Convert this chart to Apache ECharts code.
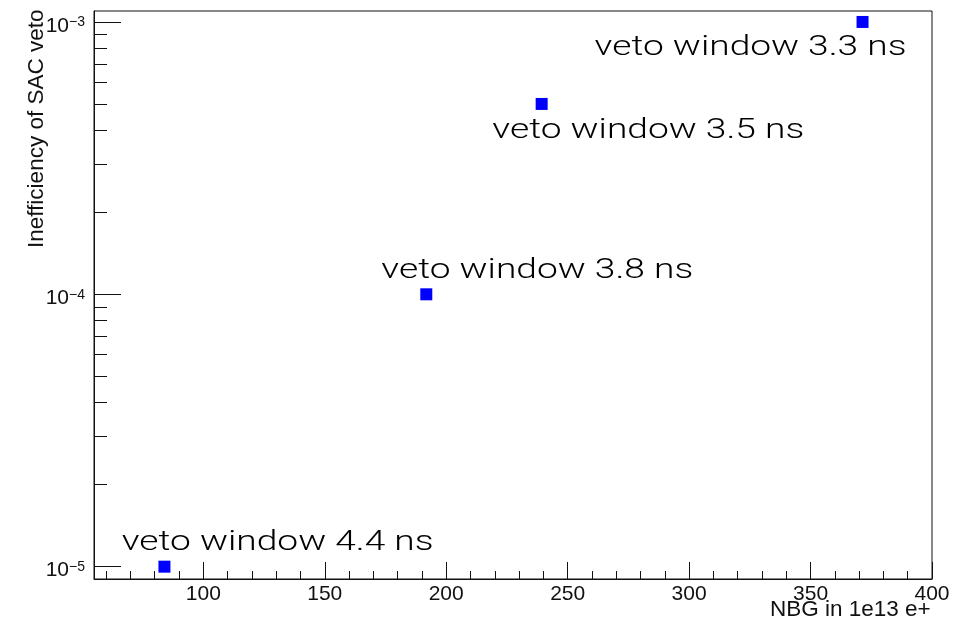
<!DOCTYPE html>
<html>
<head>
<meta charset="utf-8">
<script src="https://cdn.jsdelivr.net/npm/echarts@6/dist/echarts.min.js"></script>
<style>
  html, body { margin: 0; padding: 0; background: #fff; }
  #chart { width: 958px; height: 629px; }
</style>
</head>
<body>
<div id="chart"></div>
<script>
// measured points (NBG vs inefficiency)
var nbg = [84, 191.8, 239.3, 371.4];
var ineff = [1e-5, 1e-4, 5e-4, 1e-3];

// latex-like annotations, anchored at left edge / vertical middle
var noteText = ['veto window 4.4 ns', 'veto window 3.8 ns', 'veto window 3.5 ns', 'veto window 3.3 ns'];
var noteX = [66.4, 173.3, 219, 261.1];
var noteY = [1.22e-5, 1.22e-4, 3.98e-4, 8.04e-4];

// axis ticks
var xMajor = [100, 150, 200, 250, 300, 350, 400];
var xMinor = [60, 70, 80, 90, 110, 120, 130, 140, 160, 170, 180, 190, 210, 220, 230, 240,
  260, 270, 280, 290, 310, 320, 330, 340, 360, 370, 380, 390];
var yMajor = [1e-5, 1e-4, 1e-3];
var yMinor = [2e-5, 3e-5, 4e-5, 5e-5, 6e-5, 7e-5, 8e-5, 9e-5,
  2e-4, 3e-4, 4e-4, 5e-4, 6e-4, 7e-4, 8e-4, 9e-4];

var font = "Helvetica, 'Liberation Sans', Arial, sans-serif";
var noteFont = "Roboto, 'Liberation Sans', Arial, sans-serif";
var ink = '#111';

var chart = echarts.init(document.getElementById('chart'));

var pts = nbg.map(function (x, i) { return [x, ineff[i]]; });
var notes = noteX.map(function (x, i) { return [x, noteY[i]]; });

function powLabel(v) {
  var e = Math.round(Math.log10(v));
  return '{b|10}{s|\u2212' + (-e) + '}';
}

chart.setOption({
  animation: false,
  grid: {
    left: 94, right: 26, top: 11, bottom: 50,
    containLabel: false, outerBoundsMode: 'none',
    show: true, borderColor: ink, borderWidth: 1
  },
  xAxis: [
    {
      type: 'value', min: 55, max: 400,
      name: 'NBG in 1e13 e+',
      // pull the title back so it ends at the right edge (ROOT style)
      nameLocation: 'end', nameGap: -162, nameMoveOverlap: false,
      nameTextStyle: {
        fontFamily: font, fontSize: 22.5, color: ink,
        align: 'left', verticalAlign: 'top', padding: [19, 0, 0, 0]
      },
      axisLine: { lineStyle: { color: ink, width: 1 } },
      axisTick: { inside: true, length: 17, customValues: xMajor, lineStyle: { color: ink } },
      axisLabel: {
        customValues: xMajor, margin: 5,
        fontFamily: font, fontSize: 21, color: ink
      },
      splitLine: { show: false }
    },
    {
      type: 'value', min: 55, max: 400, position: 'bottom',
      axisLine: { show: false },
      axisTick: { inside: true, length: 8, customValues: xMinor, lineStyle: { color: ink } },
      axisLabel: { show: false },
      splitLine: { show: false }
    }
  ],
  yAxis: [
    {
      type: 'log', min: 9.01e-6, max: 1.097e-3,
      name: 'Inefficiency of SAC veto',
      nameLocation: 'end', nameGap: -237, nameRotate: 90, nameMoveOverlap: false,
      nameTextStyle: {
        fontFamily: font, fontSize: 22.5, color: ink,
        align: 'left', verticalAlign: 'bottom', padding: [0, 0, 46, 0]
      },
      axisLine: { show: true, lineStyle: { color: ink, width: 1 } },
      axisTick: { inside: true, length: 27, customValues: yMajor, lineStyle: { color: ink } },
      axisLabel: {
        customValues: yMajor, margin: 9,
        formatter: powLabel,
        padding: [8, 0, 0, 0],
        rich: {
          b: { fontFamily: font, fontSize: 21, color: ink },
          s: { fontFamily: font, fontSize: 14, color: ink, verticalAlign: 'top', padding: [0, 0, 6, 0] }
        }
      },
      splitLine: { show: false }
    },
    {
      type: 'log', min: 9.01e-6, max: 1.097e-3, position: 'left',
      axisLine: { show: false },
      axisTick: { inside: true, length: 13, customValues: yMinor, lineStyle: { color: ink } },
      axisLabel: { show: false },
      splitLine: { show: false }
    }
  ],
  series: [
    {
      type: 'scatter',
      data: pts,
      symbol: 'rect',
      symbolSize: 12,
      itemStyle: { color: '#0000ff', opacity: 1 },
      z: 5
    },
    {
      type: 'custom',
      data: notes,
      renderItem: function (params, api) {
        var p = api.coord([api.value(0), api.value(1)]);
        return {
          type: 'text',
          x: p[0], y: p[1],
          scaleX: 1.375,
          style: {
            text: noteText[params.dataIndex],
            fontFamily: noteFont, fontSize: 27, fontWeight: 300,
            fill: '#000',
            align: 'left', verticalAlign: 'middle'
          }
        };
      },
      z: 4
    }
  ]
});
</script>
</body>
</html>
